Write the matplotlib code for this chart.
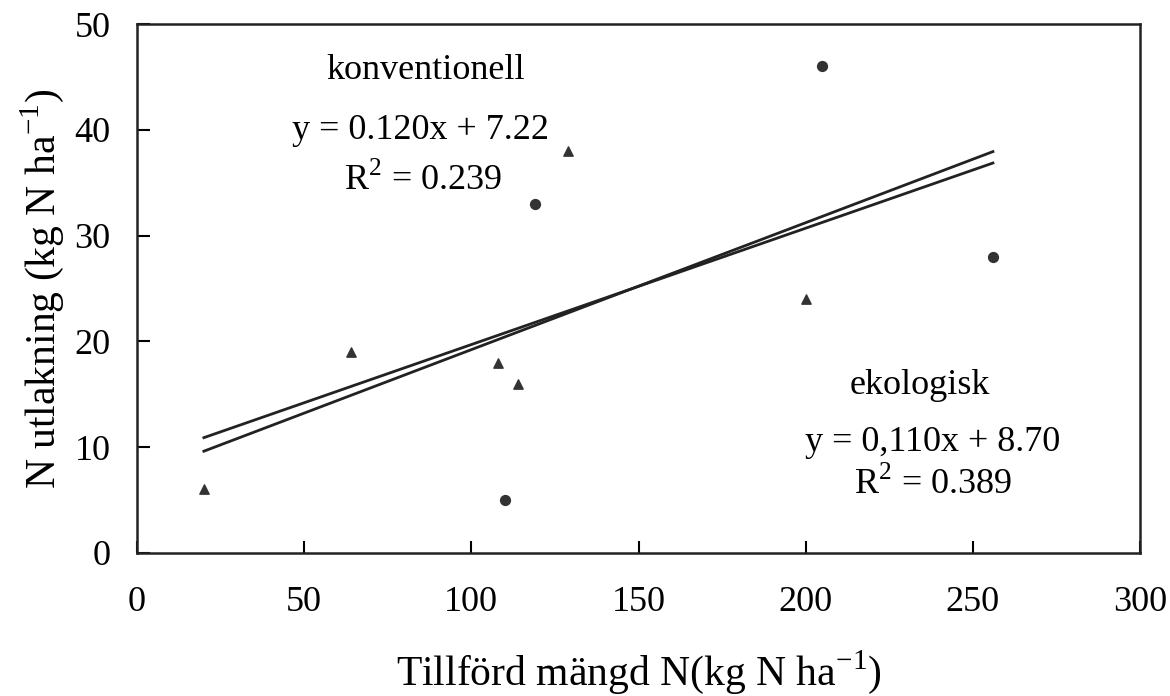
import matplotlib
matplotlib.use("Agg")
import matplotlib.pyplot as plt
import numpy as np

plt.rcParams['font.family'] = ['Liberation Serif', 'DejaVu Serif']
plt.rcParams['mathtext.fontset'] = 'custom'
plt.rcParams['mathtext.rm'] = 'Liberation Serif'

# data
konv_x = [110, 119, 205, 256]          # circles
konv_y = [5, 33, 46, 28]
eko_x = [20, 64, 108, 114, 129, 200]   # triangles
eko_y = [6, 19, 18, 16, 38, 24]
fit_x = [20, 256]
fit_konv = (0.120, 7.22)
fit_eko = (0.110, 8.70)
xticks = [0, 50, 100, 150, 200, 250, 300]
yticks = [0, 10, 20, 30, 40, 50]

fig = plt.figure(figsize=(11.7, 6.96), dpi=100)
ax = fig.add_axes([0.1171, 0.2055, 0.8573, 0.7600])

ax.scatter(konv_x, konv_y, marker='o', s=50, color='#333333', zorder=3)
ax.scatter(eko_x, eko_y, marker='^', s=45, color='#333333', zorder=3)

fx = np.array(fit_x, dtype=float)
ax.plot(fx, fit_konv[0] * fx + fit_konv[1], color='#222222', lw=2.0)
ax.plot(fx, fit_eko[0] * fx + fit_eko[1], color='#222222', lw=2.0)

ax.set_xlim(0, 300)
ax.set_ylim(0, 50)
ax.set_xticks(xticks)
ax.set_yticks(yticks)
ax.tick_params(direction='in', length=9, width=1.5, labelsize=26)
ax.tick_params(axis='x', pad=24)
ax.tick_params(axis='y', pad=19)
for s in ax.spines.values():
    s.set_linewidth(1.8)
    s.set_color('#222222')

ax.set_xlabel(r'Tillförd mängd N(kg N ha$^{\mathregular{-1}}$)', fontsize=30, labelpad=21)
ax.set_ylabel(r'N utlakning (kg N ha$^{\mathregular{-1}}$)', fontsize=30, labelpad=6)

fs = 26
ax.text(86.2, 44.8, 'konventionell', fontsize=fs, ha='center', va='baseline')
ax.text(84.9, 39.1, 'y = 0.120x + 7.22', fontsize=fs, ha='center', va='baseline')
ax.text(85.5, 34.3, r'R$^{\mathregular{2}}$ = 0.239', fontsize=fs, ha='center', va='baseline')
ax.text(234, 15.0, 'ekologisk', fontsize=fs, ha='center', va='baseline')
ax.text(238, 9.6, 'y = 0,110x + 8.70', fontsize=fs, ha='center', va='baseline')
ax.text(238, 5.6, r'R$^{\mathregular{2}}$ = 0.389', fontsize=fs, ha='center', va='baseline')

fig.savefig('out.png', dpi=100)
